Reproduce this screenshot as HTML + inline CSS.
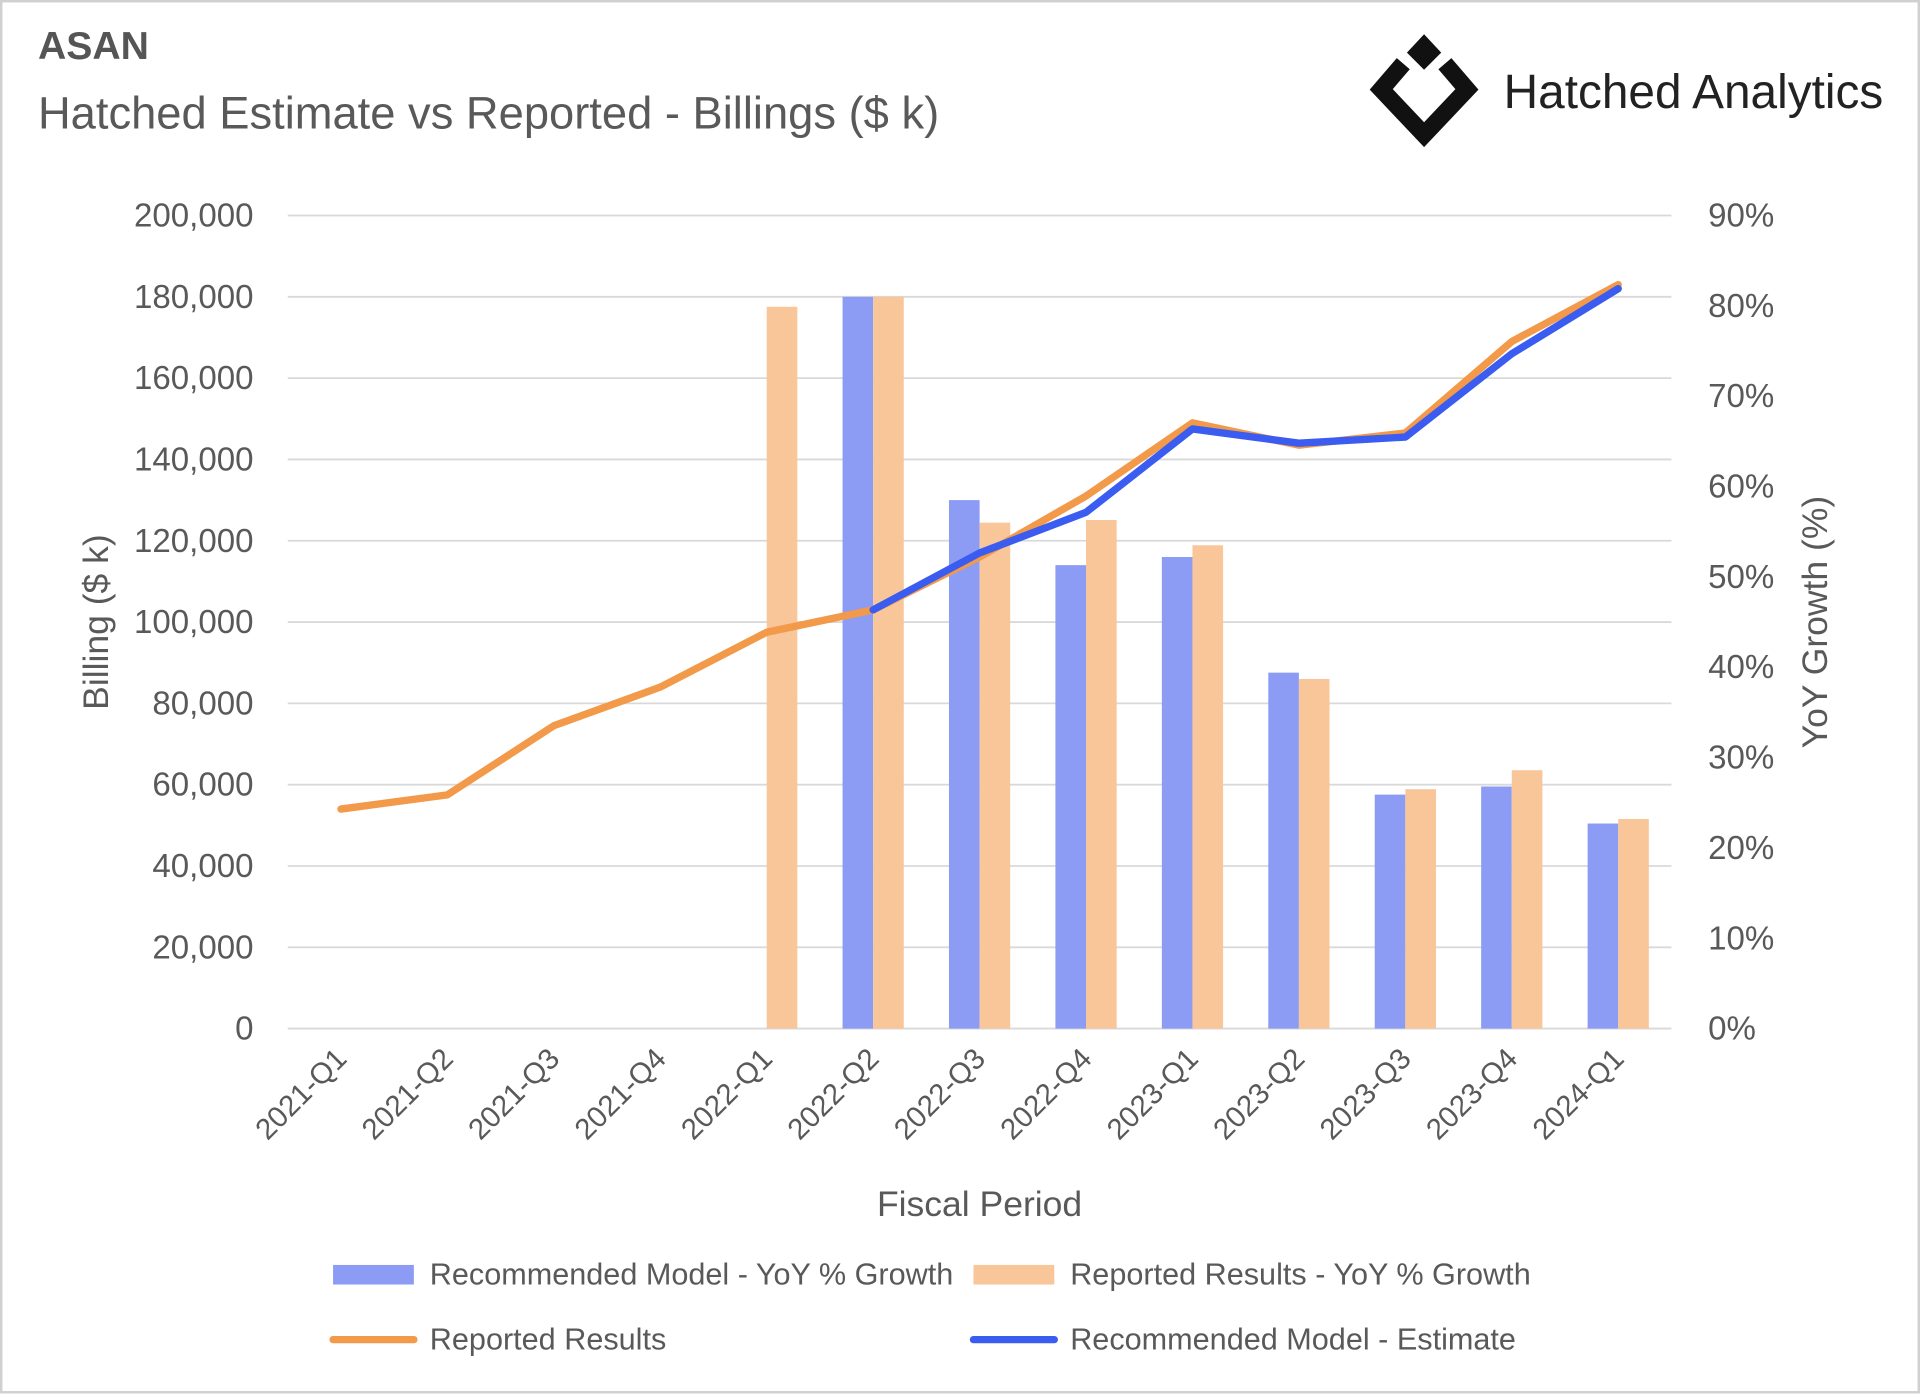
<!DOCTYPE html>
<html><head><meta charset="utf-8"><style>
html,body{margin:0;padding:0;background:#fff;}
svg{display:block;font-family:"Liberation Sans",sans-serif;}
</style></head><body>
<svg id="chart" width="1920" height="1394" viewBox="0 0 1568 1138.4" preserveAspectRatio="none" xmlns="http://www.w3.org/2000/svg">
<rect x="1" y="1" width="1566" height="1136" fill="#fff" stroke="#d0d0d0" stroke-width="2"/>
<text x="31" y="48" font-size="32" font-weight="bold" fill="#555">ASAN</text>
<text x="31" y="105" font-size="37" fill="#595959">Hatched Estimate vs Reported - Billings ($ k)</text>
<g>
<path d="M1146,52 L1128,73 L1163,110 L1198,73 L1180,52" fill="none" stroke="#111" stroke-width="14" stroke-linejoin="miter"/>
<path d="M1163,28 L1177,43 L1163,57 L1149,43 Z" fill="#111"/>
<text x="1228" y="88" font-size="39" fill="#222">Hatched Analytics</text>
</g>
<g id="grid"></g><g id="bars"></g><g id="lines"></g><g id="axes"></g>
<text transform="translate(88,508) rotate(-90)" text-anchor="middle" font-size="29" fill="#595959">Billing ($ k)</text>
<text transform="translate(1492,508) rotate(-90)" text-anchor="middle" font-size="29" fill="#595959">YoY Growth (%)</text>
<text x="800" y="993" text-anchor="middle" font-size="29" fill="#595959">Fiscal Period</text>
<g>
<g><rect x="272" y="1033" width="66" height="16" fill="#8c9cf5"/><text x="351" y="1049" font-size="25" fill="#595959">Recommended Model - YoY % Growth</text></g>
<g><rect x="795" y="1033" width="66" height="16" fill="#f8c698"/><text x="874" y="1049" font-size="25" fill="#595959">Reported Results - YoY % Growth</text></g>
<g><line x1="272" y1="1094" x2="338" y2="1094" stroke="#f2994a" stroke-width="6" stroke-linecap="round"/><text x="351" y="1102" font-size="25" fill="#595959">Reported Results</text></g>
<g><line x1="795" y1="1094" x2="861" y2="1094" stroke="#3a5cf0" stroke-width="6" stroke-linecap="round"/><text x="874" y="1102" font-size="25" fill="#595959">Recommended Model - Estimate</text></g>
</g>
</svg>
<script>
const categories=["2021-Q1","2021-Q2","2021-Q3","2021-Q4","2022-Q1","2022-Q2","2022-Q3","2022-Q4","2023-Q1","2023-Q2","2023-Q3","2023-Q4","2024-Q1"];
const recGrowth=[null,null,null,null,null,81,58.5,51.3,52.2,39.4,25.9,26.8,22.7];
const repGrowth=[null,null,null,null,79.9,81,56,56.3,53.5,38.7,26.5,28.6,23.2];
const reported=[54000,57500,74500,84000,97500,103000,116000,131000,149000,143500,146500,169000,183000];
const estimate=[null,null,null,null,null,103000,117000,127000,147500,144000,145500,166000,182000];
const leftTicks=[0,20000,40000,60000,80000,100000,120000,140000,160000,180000,200000];
const rightTicks=[0,10,20,30,40,50,60,70,80,90];
const NS="http://www.w3.org/2000/svg";
const X0=235,X1=1365,Y0=840,Y1=176;
const band=(X1-X0)/categories.length;
const xc=i=>X0+band*(i+0.5);
const yL=v=>Y0-(v/200000)*(Y0-Y1);
const yR=v=>Y0-(v/90)*(Y0-Y1);
function mk(tag,attrs,parent,txt){const e=document.createElementNS(NS,tag);for(const k in attrs)e.setAttribute(k,attrs[k]);if(txt!==undefined)e.textContent=txt;document.getElementById(parent).appendChild(e);return e;}
leftTicks.forEach(t=>{
 const g=mk('line',{x1:X0,x2:X1,y1:yL(t),y2:yL(t),stroke:'#d9d9d9','stroke-width':1.5},'grid');
 
 
 const l=mk('text',{x:207,y:yL(t)+9,'text-anchor':'end','font-size':27,fill:'#595959'},'axes',t.toLocaleString('en-US'));
 
 
});
rightTicks.forEach(t=>{
 const l=mk('text',{x:1395,y:yR(t)+9,'font-size':27,fill:'#595959'},'axes',t+'%');
 
 
});
categories.forEach((c,i)=>{
 const l=mk('text',{'text-anchor':'end','font-size':24,fill:'#595959',transform:`translate(${xc(i)+6},${866}) rotate(-45)`},'axes',c);
 
 
});
const bw=25;
categories.forEach((c,i)=>{
 if(recGrowth[i]!=null){const r=mk('rect',{x:xc(i)-bw,y:yR(recGrowth[i]),width:bw,height:Y0-yR(recGrowth[i]),fill:'#8c9cf5'},'bars');
  
  }
 if(repGrowth[i]!=null){const r=mk('rect',{x:xc(i),y:yR(repGrowth[i]),width:bw,height:Y0-yR(repGrowth[i]),fill:'#f8c698'},'bars');
  
  }
});
function path(arr){let d='';arr.forEach((v,i)=>{if(v==null)return;d+=(d?'L':'M')+xc(i)+','+yL(v);});return d;}
const p1=mk('path',{d:path(reported),fill:'none',stroke:'#f2994a','stroke-width':6,'stroke-linejoin':'round','stroke-linecap':'round'},'lines');


const p2=mk('path',{d:path(estimate),fill:'none',stroke:'#3a5cf0','stroke-width':6,'stroke-linejoin':'round','stroke-linecap':'round'},'lines');


</script>
</body></html>
